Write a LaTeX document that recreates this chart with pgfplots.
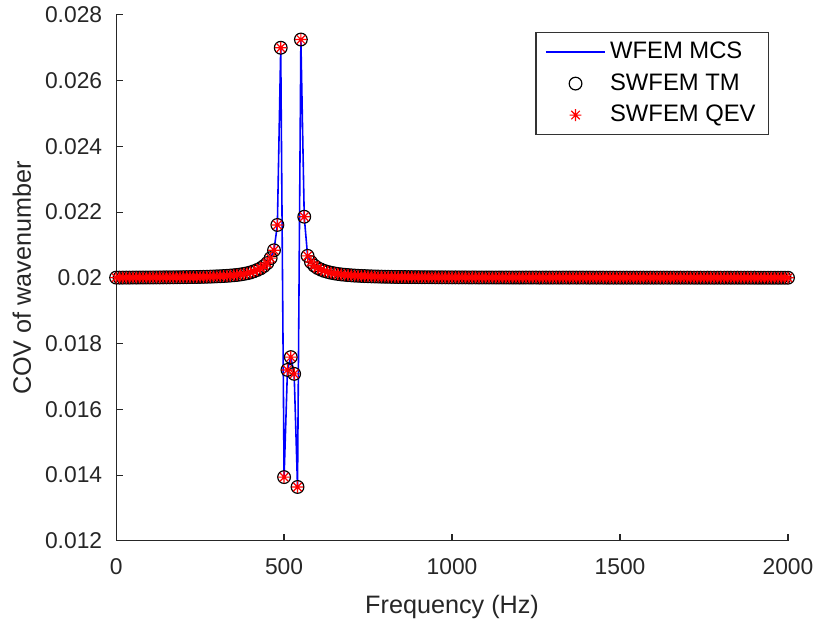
\documentclass[border=0pt]{standalone}
\usepackage{fontspec}
\setmainfont{Liberation Sans}
\usepackage{pgfplots}
\usepackage{pgfplotstable}
\pgfplotsset{compat=1.18}
\usetikzlibrary{calc}

\pgfdeclareplotmark{mstar}{%
  \pgfpathmoveto{\pgfpoint{-\pgfplotmarksize}{0pt}}\pgfpathlineto{\pgfpoint{\pgfplotmarksize}{0pt}}%
  \pgfpathmoveto{\pgfpoint{0pt}{-\pgfplotmarksize}}\pgfpathlineto{\pgfpoint{0pt}{\pgfplotmarksize}}%
  \pgfpathmoveto{\pgfpoint{-0.707\pgfplotmarksize}{-0.707\pgfplotmarksize}}\pgfpathlineto{\pgfpoint{0.707\pgfplotmarksize}{0.707\pgfplotmarksize}}%
  \pgfpathmoveto{\pgfpoint{-0.707\pgfplotmarksize}{0.707\pgfplotmarksize}}\pgfpathlineto{\pgfpoint{0.707\pgfplotmarksize}{-0.707\pgfplotmarksize}}%
  \pgfusepathqstroke}

\pgfplotstableread[row sep=\\]{
f y\\
0 0.020008\\ 10 0.020008\\ 20 0.020008\\ 30 0.020009\\ 40 0.020009\\ 50 0.020010\\ 60 0.020010\\ 70 0.020011\\ 80 0.020011\\ 90 0.020012\\
100 0.020012\\ 110 0.020013\\ 120 0.020013\\ 130 0.020014\\ 140 0.020015\\ 150 0.020016\\ 160 0.020016\\ 170 0.020017\\ 180 0.020018\\ 190 0.020020\\
200 0.020021\\ 210 0.020022\\ 220 0.020024\\ 230 0.020025\\ 240 0.020027\\ 250 0.020029\\ 260 0.020032\\ 270 0.020034\\ 280 0.020038\\ 290 0.020041\\
300 0.020046\\ 310 0.020050\\ 320 0.020056\\ 330 0.020062\\ 340 0.020070\\ 350 0.020079\\ 360 0.020090\\ 370 0.020103\\ 380 0.020120\\ 390 0.020140\\
400 0.020165\\ 410 0.020200\\ 420 0.020240\\ 430 0.020290\\ 440 0.020360\\ 450 0.020450\\ 460 0.020600\\ 470 0.020840\\ 480 0.021610\\ 490 0.027000\\
500 0.013940\\ 510 0.017200\\ 520 0.017590\\ 530 0.017080\\ 540 0.013640\\ 550 0.027250\\ 560 0.021860\\ 570 0.020670\\ 580 0.020480\\ 590 0.020370\\
600 0.020300\\ 610 0.020250\\ 620 0.020210\\ 630 0.020180\\ 640 0.020155\\ 650 0.020135\\ 660 0.020120\\ 670 0.020105\\ 680 0.020095\\ 690 0.020085\\
700 0.020077\\ 710 0.020070\\ 720 0.020064\\ 730 0.020059\\ 740 0.020054\\ 750 0.020050\\ 760 0.020046\\ 770 0.020043\\ 780 0.020040\\ 790 0.020037\\
800 0.020035\\ 810 0.020033\\ 820 0.020031\\ 830 0.020029\\ 840 0.020028\\ 850 0.020026\\ 860 0.020025\\ 870 0.020024\\ 880 0.020023\\ 890 0.020022\\
900 0.020021\\ 910 0.020020\\ 920 0.020019\\ 930 0.020019\\ 940 0.020018\\ 950 0.020017\\ 960 0.020017\\ 970 0.020016\\ 980 0.020016\\ 990 0.020015\\
1000 0.020015\\ 1010 0.020015\\ 1020 0.020014\\ 1030 0.020014\\ 1040 0.020014\\ 1050 0.020013\\ 1060 0.020013\\ 1070 0.020013\\ 1080 0.020012\\ 1090 0.020012\\
1100 0.020012\\ 1110 0.020012\\ 1120 0.020011\\ 1130 0.020011\\ 1140 0.020011\\ 1150 0.020011\\ 1160 0.020011\\ 1170 0.020010\\ 1180 0.020010\\ 1190 0.020010\\
1200 0.020010\\ 1210 0.020010\\ 1220 0.020010\\ 1230 0.020010\\ 1240 0.020010\\ 1250 0.020010\\ 1260 0.020009\\ 1270 0.020009\\ 1280 0.020009\\ 1290 0.020009\\
1300 0.020009\\ 1310 0.020009\\ 1320 0.020009\\ 1330 0.020009\\ 1340 0.020009\\ 1350 0.020009\\ 1360 0.020009\\ 1370 0.020009\\ 1380 0.020009\\ 1390 0.020009\\
1400 0.020009\\ 1410 0.020008\\ 1420 0.020008\\ 1430 0.020008\\ 1440 0.020008\\ 1450 0.020008\\ 1460 0.020007\\ 1470 0.020007\\ 1480 0.020007\\ 1490 0.020007\\
1500 0.020007\\ 1510 0.020007\\ 1520 0.020007\\ 1530 0.020007\\ 1540 0.020007\\ 1550 0.020007\\ 1560 0.020007\\ 1570 0.020007\\ 1580 0.020007\\ 1590 0.020007\\
1600 0.020007\\ 1610 0.020007\\ 1620 0.020007\\ 1630 0.020007\\ 1640 0.020007\\ 1650 0.020007\\ 1660 0.020007\\ 1670 0.020007\\ 1680 0.020007\\ 1690 0.020007\\
1700 0.020007\\ 1710 0.020006\\ 1720 0.020006\\ 1730 0.020006\\ 1740 0.020006\\ 1750 0.020006\\ 1760 0.020006\\ 1770 0.020006\\ 1780 0.020006\\ 1790 0.020006\\
1800 0.020006\\ 1810 0.020006\\ 1820 0.020006\\ 1830 0.020006\\ 1840 0.020006\\ 1850 0.020006\\ 1860 0.020006\\ 1870 0.020006\\ 1880 0.020006\\ 1890 0.020006\\
1900 0.020006\\ 1910 0.020005\\ 1920 0.020005\\ 1930 0.020005\\ 1940 0.020005\\ 1950 0.020005\\ 1960 0.020005\\ 1970 0.020005\\ 1980 0.020005\\ 1990 0.020005\\
2000 0.020005\\
}\datatable

\begin{document}
\begin{tikzpicture}
\begin{axis}[
  scale only axis,
  width=338.5pt, height=265pt,
  xmin=0, xmax=2000, ymin=0.012, ymax=0.028,
  xtick={0,500,1000,1500,2000},
  ytick={0.012,0.014,0.016,0.018,0.02,0.022,0.024,0.026,0.028},
  scaled y ticks=false,
  /pgf/number format/assume math mode=true,
  /pgf/number format/1000 sep={},
  yticklabel style={/pgf/number format/fixed, /pgf/number format/precision=3, xshift=-3.5pt},
  xticklabel style={yshift=-5.5pt},
  tick label style={font=\fontsize{11.5}{13}\selectfont, text=black!85},
  axis x line*=bottom, axis y line*=left,
  tick align=inside,
  major tick length=3.5pt,
  axis line style={draw=black!85, line width=0.6pt},
  every tick/.style={draw=black!85, line width=0.6pt},
  xlabel={Frequency (Hz)},
  ylabel={COV of wavenumber},
  every axis x label/.style={at={(axis description cs:0.5,0)}, anchor=center, yshift=-33.5pt, font=\fontsize{12.7}{14}\selectfont, text=black!85},
  every axis y label/.style={at={(axis description cs:0,0.5)}, anchor=center, rotate=90, yshift=47.5pt, font=\fontsize{12.7}{14}\selectfont, text=black!85},
  legend style={at={(1,1)}, anchor=north east, xshift=-9.5pt, yshift=-8.5pt,
    draw=black!80, line width=0.6pt, fill=white,
    font=\fontsize{12}{13.5}\selectfont, row sep=2pt, inner xsep=4.5pt, inner ysep=3pt,
    cells={anchor=west}},
  legend image code/.code={\draw[mark repeat=2, mark phase=2, #1] plot coordinates {(0pt,0pt) (15pt,0pt) (30pt,0pt)};},
  clip=false,
]
\addplot[blue, line width=0.8pt, no marks] table[x=f, y=y] {\datatable};
\addlegendentry{WFEM MCS}
\addplot[only marks, mark=o, mark size=3.2pt, black, mark options={line width=0.6pt}] table[x=f, y=y] {\datatable};
\addlegendentry{SWFEM TM}
\addplot[only marks, mark=mstar, mark size=3pt, red, mark options={line width=0.6pt}] table[x=f, y=y] {\datatable};
\addlegendentry{SWFEM QEV}
\end{axis}
\path ($(current axis.south west)+(-58.5pt,-40.5pt)$) rectangle ($(current axis.north east)+(13pt,7.5pt)$);
\end{tikzpicture}
\end{document}
